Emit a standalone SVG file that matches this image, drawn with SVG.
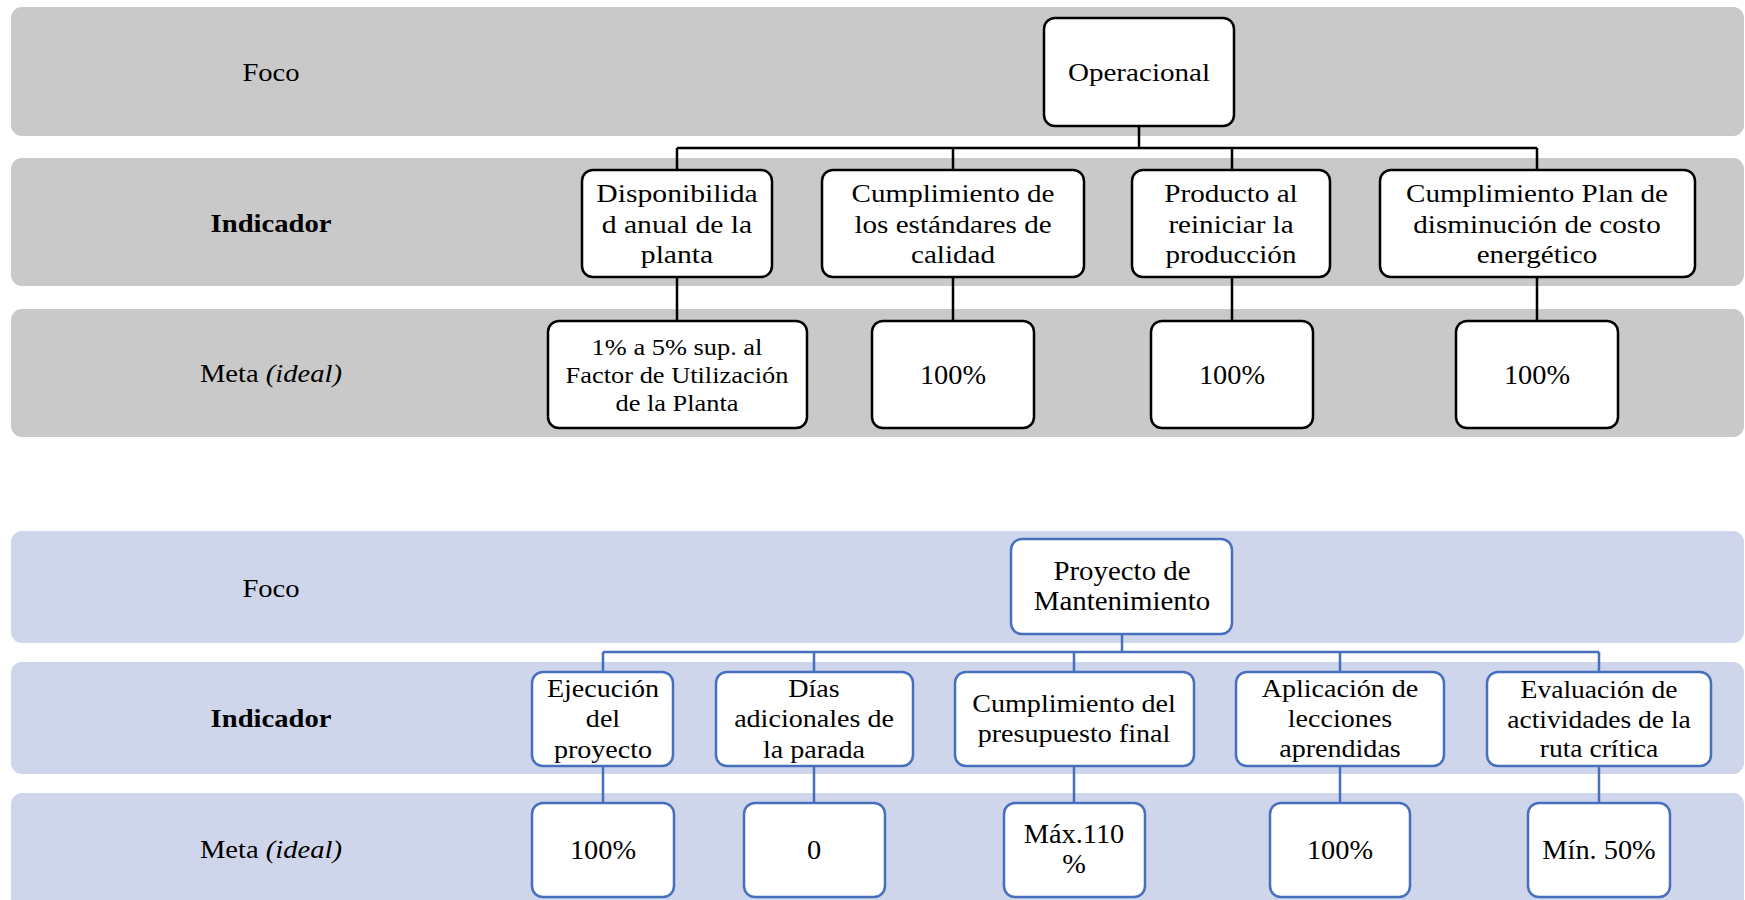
<svg xmlns="http://www.w3.org/2000/svg" width="1745" height="900" viewBox="0 0 1745 900">
<style>
  text { font-family: "Liberation Serif", "Times New Roman", serif; font-size: 26px; fill: #000; text-anchor: middle; }
  .bold { font-weight: bold; }
  .m { font-size: 27px; }
  .s { font-size: 24px; }
  .band1 { fill: #c9c9c9; }
  .band2 { fill: #cfd5ea; }
  .bk { fill: #fff; stroke: #000; stroke-width: 2.5; }
  .bl { fill: #fff; stroke: #4670bd; stroke-width: 2.5; }
  .ck { stroke: #000; stroke-width: 2.5; fill: none; }
  .cb { stroke: #4670bd; stroke-width: 2.5; fill: none; }
</style>
<rect width="1745" height="900" fill="#fff"/>
<g id="bands">
  <rect class="band1" x="11" y="7" width="1733" height="129" rx="11"/>
  <rect class="band1" x="11" y="158" width="1733" height="128" rx="11"/>
  <rect class="band1" x="11" y="309" width="1733" height="128" rx="11"/>
  <rect class="band2" x="11" y="531" width="1733" height="112" rx="11"/>
  <rect class="band2" x="11" y="662" width="1733" height="112" rx="11"/>
  <rect class="band2" x="11" y="793" width="1733" height="130" rx="11"/>
</g>
<g id="labels">
  <g transform="translate(271 0) scale(1.1 1)">
    <text x="0" y="81">Foco</text>
    <text x="0" y="232" class="bold">Indicador</text>
    <text x="0" y="382">Meta <tspan font-style="italic">(ideal)</tspan></text>
    <text x="0" y="597">Foco</text>
    <text x="0" y="727" class="bold">Indicador</text>
    <text x="0" y="858">Meta <tspan font-style="italic">(ideal)</tspan></text>
  </g>
</g>
<g id="connectors">
  <path class="ck" d="M1139 126V148 M677 148H1537 M677 148V170 M953 148V170 M1232 148V170 M1537 148V170"/>
  <path class="ck" d="M677 277V321 M953 277V321 M1232 277V321 M1537 277V321"/>
  <path class="cb" d="M1122 634V652 M603 652H1599 M603 652V672 M814 652V672 M1074 652V672 M1340 652V672 M1599 652V672"/>
  <path class="cb" d="M603 766V803 M814 766V803 M1074 766V803 M1340 766V803 M1599 766V803"/>
</g>
<g id="operacional">
  <rect class="bk" x="1044" y="18" width="190" height="108" rx="11"/>
  <g transform="translate(1139 0) scale(1.12 1)"><text x="0" y="81">Operacional</text></g>
</g>
<g id="ind-disponibilidad">
  <rect class="bk" x="582" y="170" width="190" height="107" rx="11"/>
  <g transform="translate(677 0) scale(1.14 1)">
    <text x="0" y="202">Disponibilida</text>
    <text x="0" y="233">d anual de la</text>
    <text x="0" y="263">planta</text>
  </g>
</g>
<g id="ind-estandares">
  <rect class="bk" x="822" y="170" width="262" height="107" rx="11"/>
  <g transform="translate(953 0) scale(1.12 1)">
    <text x="0" y="202">Cumplimiento de</text>
    <text x="0" y="233">los estándares de</text>
    <text x="0" y="263">calidad</text>
  </g>
</g>
<g id="ind-producto">
  <rect class="bk" x="1132" y="170" width="198" height="107" rx="11"/>
  <g transform="translate(1231 0) scale(1.12 1)">
    <text x="0" y="202">Producto al</text>
    <text x="0" y="233">reiniciar la</text>
    <text x="0" y="263">producción</text>
  </g>
</g>
<g id="ind-plan">
  <rect class="bk" x="1380" y="170" width="315" height="107" rx="11"/>
  <g transform="translate(1537 0) scale(1.12 1)">
    <text x="0" y="202">Cumplimiento Plan de</text>
    <text x="0" y="233">disminución de costo</text>
    <text x="0" y="263">energético</text>
  </g>
</g>
<g id="meta-factor">
  <rect class="bk" x="548" y="321" width="259" height="107" rx="11"/>
  <g transform="translate(677 0) scale(1.1 1)">
    <text x="0" y="355" class="s">1% a 5% sup. al</text>
    <text x="0" y="383" class="s">Factor de Utilización</text>
    <text x="0" y="411" class="s">de la Planta</text>
  </g>
</g>
<g id="meta-estandares">
  <rect class="bk" x="872" y="321" width="162" height="107" rx="11"/>
  <g transform="translate(953 0) scale(1.05 1)"><text x="0" y="384" class="m">100%</text></g>
</g>
<g id="meta-producto">
  <rect class="bk" x="1151" y="321" width="162" height="107" rx="11"/>
  <g transform="translate(1232 0) scale(1.05 1)"><text x="0" y="384" class="m">100%</text></g>
</g>
<g id="meta-plan">
  <rect class="bk" x="1456" y="321" width="162" height="107" rx="11"/>
  <g transform="translate(1537 0) scale(1.05 1)"><text x="0" y="384" class="m">100%</text></g>
</g>
<g id="proyecto">
  <rect class="bl" x="1011" y="539" width="221" height="95" rx="11"/>
  <g transform="translate(1122 0) scale(1.07 1)">
    <text x="0" y="580" class="m">Proyecto de</text>
    <text x="0" y="610" class="m">Mantenimiento</text>
  </g>
</g>
<g id="ind-ejecucion">
  <rect class="bl" x="532" y="672" width="141" height="94" rx="11"/>
  <g transform="translate(603 0) scale(1.08 1)">
    <text x="0" y="697">Ejecución</text>
    <text x="0" y="727">del</text>
    <text x="0" y="758">proyecto</text>
  </g>
</g>
<g id="ind-dias">
  <rect class="bl" x="716" y="672" width="197" height="94" rx="11"/>
  <g transform="translate(814 0) scale(1.08 1)">
    <text x="0" y="697">Días</text>
    <text x="0" y="727">adicionales de</text>
    <text x="0" y="758">la parada</text>
  </g>
</g>
<g id="ind-presupuesto">
  <rect class="bl" x="955" y="672" width="239" height="94" rx="11"/>
  <g transform="translate(1074 0) scale(1.08 1)">
    <text x="0" y="712">Cumplimiento del</text>
    <text x="0" y="742">presupuesto final</text>
  </g>
</g>
<g id="ind-lecciones">
  <rect class="bl" x="1236" y="672" width="208" height="94" rx="11"/>
  <g transform="translate(1340 0) scale(1.08 1)">
    <text x="0" y="697">Aplicación de</text>
    <text x="0" y="727">lecciones</text>
    <text x="0" y="757">aprendidas</text>
  </g>
</g>
<g id="ind-ruta">
  <rect class="bl" x="1487" y="672" width="224" height="94" rx="11"/>
  <g transform="translate(1599 0) scale(1.06 1)">
    <text x="0" y="698">Evaluación de</text>
    <text x="0" y="728">actividades de la</text>
    <text x="0" y="757">ruta crítica</text>
  </g>
</g>
<g id="meta-ejecucion">
  <rect class="bl" x="532" y="803" width="142" height="94" rx="11"/>
  <g transform="translate(603 0) scale(1.05 1)"><text x="0" y="859" class="m">100%</text></g>
</g>
<g id="meta-dias">
  <rect class="bl" x="744" y="803" width="141" height="94" rx="11"/>
  <g transform="translate(814 0) scale(1.05 1)"><text x="0" y="859" class="m">0</text></g>
</g>
<g id="meta-presupuesto">
  <rect class="bl" x="1004" y="803" width="141" height="94" rx="11"/>
  <g transform="translate(1074 0) scale(1.05 1)">
    <text x="0" y="843" class="m">Máx.110</text>
    <text x="0" y="873" class="m">%</text>
  </g>
</g>
<g id="meta-lecciones">
  <rect class="bl" x="1270" y="803" width="140" height="94" rx="11"/>
  <g transform="translate(1340 0) scale(1.05 1)"><text x="0" y="859" class="m">100%</text></g>
</g>
<g id="meta-ruta">
  <rect class="bl" x="1528" y="803" width="142" height="94" rx="11"/>
  <g transform="translate(1599 0) scale(1.05 1)"><text x="0" y="859" class="m">Mín. 50%</text></g>
</g>
</svg>
